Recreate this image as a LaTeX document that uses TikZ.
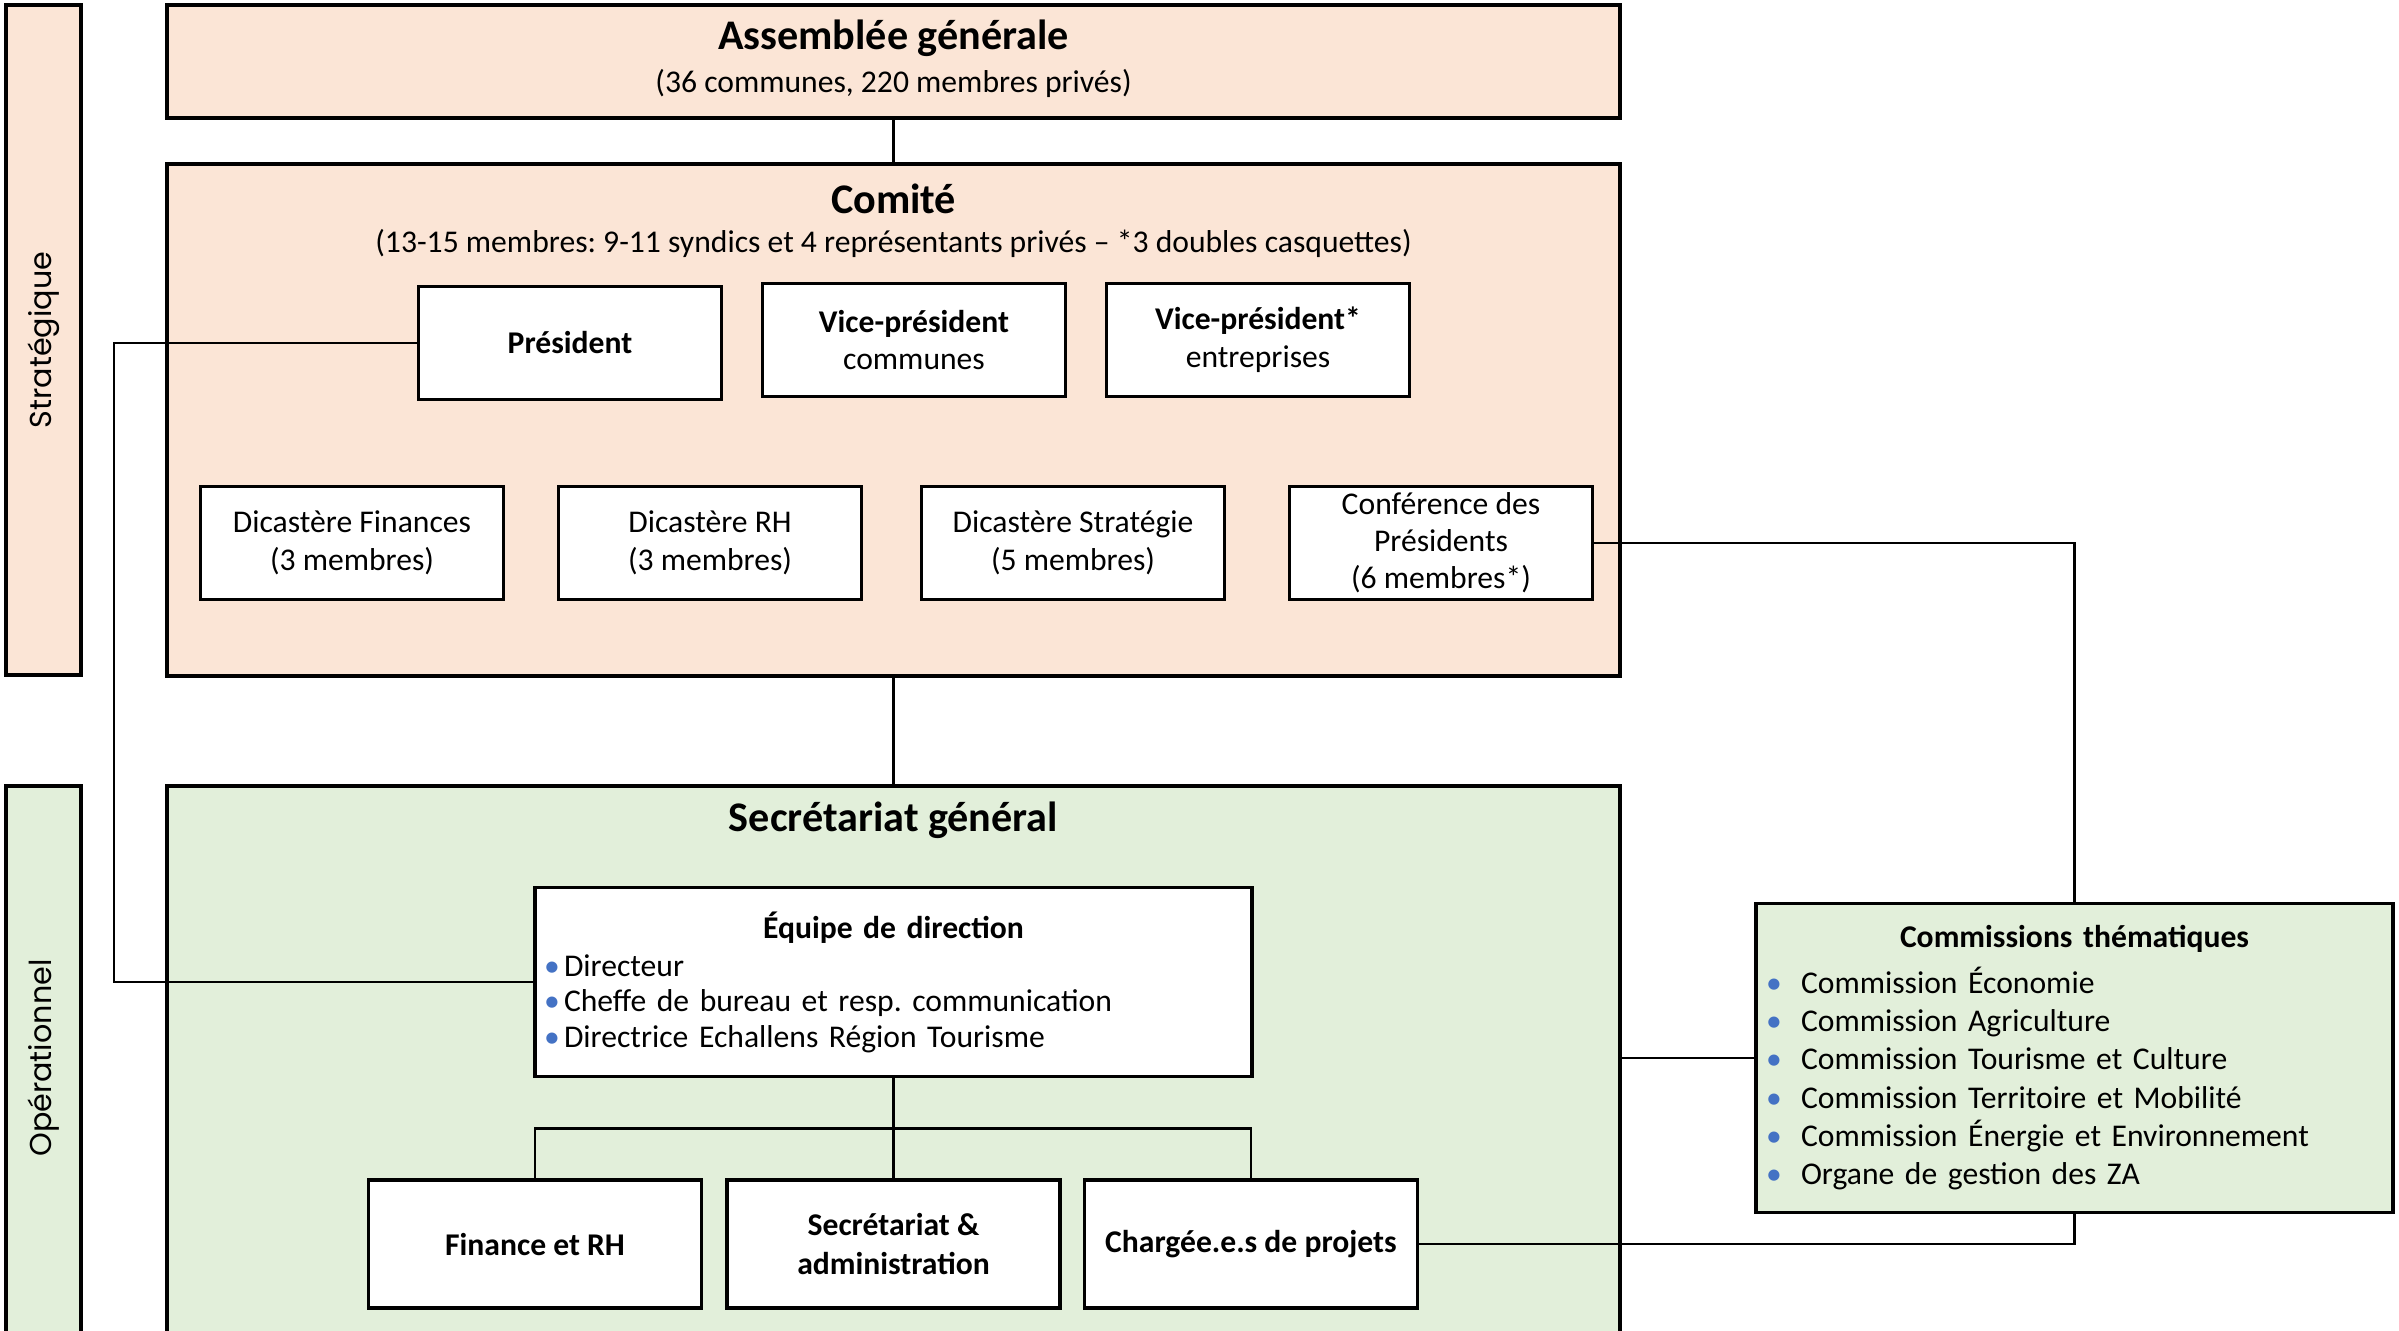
\documentclass[tikz,border=0pt]{standalone}
\usepackage{fontspec}
\setmainfont{Carlito}
\newfontfamily\sidefont{Poppins}
\usetikzlibrary{positioning,calc}
\definecolor{peach}{HTML}{FBE5D6}
\definecolor{sage}{HTML}{E2EFDA}
\definecolor{bulletblue}{HTML}{4472C4}
\newcommand{\bul}{{\color{bulletblue}\textbullet}}
\newcommand{\teamitem}[1]{\hspace*{0.03cm}\makebox[0.2cm][l]{\bul}#1\par}
\newcommand{\comitem}[1]{\hspace*{0.1cm}\makebox[0.35cm][l]{\bul}#1\par}
\frenchspacing

\begin{document}
\begin{tikzpicture}[
                every node/.style={font=\fontsize{9}{10.8}\selectfont},
                panel/.style={draw, line width=0.9pt, rectangle, inner sep=0pt},
                sidebar/.style={draw, line width=0.9pt, rectangle, minimum width=0.75cm},
                sidelabel/.style={rotate=90, font=\sidefont\fontsize{8.6}{10}\selectfont},
                heading/.style={font=\bfseries\fontsize{12}{14}\selectfont},
                rolebox/.style={draw, line width=0.9pt, fill=white, align=center,
                    minimum width=3.03cm, minimum height=1.13cm, inner ysep=1pt},
                teambox/.style={draw, line width=0.9pt, fill=white, align=center,
                    minimum width=3.33cm, minimum height=1.28cm, font=\bfseries\fontsize{9}{11}\selectfont},
                link/.style={line width=0.8pt},
                thinlink/.style={line width=0.4pt}
            ]
            \useasboundingbox (0,0) rectangle (23.99,-13.30);
            \clip (0,0) rectangle (23.99,-13.30);

            % side bars
            \node[sidebar, fill=peach, minimum height=6.70cm] (stratbar) at (0.435,-3.40) {};
            \node[sidebar, fill=sage, minimum height=5.74cm] (operbar) at (0.435,-10.73) {};
            \node[sidelabel] (stratlabel) at (stratbar) {Stratégique};
            \node[sidelabel] (operlabel) at (0.435,-10.58) {Opérationnel};

            % main panels
            \node[panel, fill=peach, minimum width=14.53cm, minimum height=1.13cm] (assemblee) at (8.935,-0.615) {};
            \node[panel, fill=peach, minimum width=14.53cm, minimum height=5.12cm] (comite) at (8.935,-4.20) {};
            \node[panel, fill=sage, minimum width=14.53cm, minimum height=5.74cm] (secretariat) at (8.935,-10.73) {};

            \node[heading] (assembleetitle) at (8.935,-0.38) {Assemblée générale};
            \node (assembleesub) at (8.935,-0.83) {(36 communes, 220 membres privés)};
            \node[heading] (comitetitle) at (8.935,-1.99) {Comité};
            \node (comitesub) at (8.935,-2.43) {(13-15 membres: 9-11 syndics et 4 représentants privés -- *3 doubles casquettes)};
            \node[heading] (secretariattitle) at (8.935,-8.20) {Secrétariat général};

            % comite
            \node[rolebox] (president) at (5.70,-3.43) {\textbf{Président}};
            \node[rolebox] (vpcommunes) at (9.14,-3.40) {\textbf{Vice-président}\\communes};
            \node[rolebox] (vpentreprises) at (12.58,-3.40) {\textbf{Vice-président*}\\entreprises};

            \node[rolebox] (dicfinances) at (3.52,-5.43) {Dicastère Finances\\(3 membres)};
            \node[rolebox] (dicrh) at (7.10,-5.43) {Dicastère RH\\(3 membres)};
            \node[rolebox] (dicstrategie) at (10.73,-5.43) {Dicastère Stratégie\\(5 membres)};
            \node[rolebox, font=\fontsize{9}{10.5}\selectfont] (conference) at (14.41,-5.43) {Conférence des\\Présidents\\(6 membres*)};

            % secretariat
            \node[draw, line width=0.9pt, fill=white, minimum width=7.17cm, minimum height=1.89cm,
                  text width=7.05cm, inner xsep=0.06cm, align=left,
                  font=\fontsize{9}{10}\selectfont] (equipe) at (8.935,-9.82)
                {{\centering\bfseries Équipe de direction\par}\vspace{1pt}
                 \teamitem{Directeur}
                 \teamitem{Cheffe de bureau et resp. communication}
                 \teamitem{Directrice Echallens Région Tourisme}};

            \node[teambox] (finance) at (5.35,-12.44) {Finance et RH};
            \node[teambox] (admin) at (8.935,-12.44) {Secrétariat \&\\administration};
            \node[teambox] (projets) at (12.51,-12.44) {Chargée.e.s de projets};

            \node[draw, line width=0.9pt, fill=sage, minimum width=6.37cm, minimum height=3.09cm,
                  text width=6.37cm, inner xsep=0pt, inner ysep=0pt, align=left,
                  font=\fontsize{9}{10.9}\selectfont] (commissions) at (20.745,-10.58)
                {{\centering\bfseries Commissions thématiques\par}\vspace{2pt}
                 \comitem{Commission Économie}
                 \comitem{Commission Agriculture}
                 \comitem{Commission Tourisme et Culture}
                 \comitem{Commission Territoire et Mobilité}
                 \comitem{Commission Énergie et Environnement}
                 \comitem{Organe de gestion des ZA}\vspace{4pt}};

            % links
            \draw[link] (assemblee) -- (comite);
            \draw[link] (comite) -- (secretariat);
            \draw[thinlink] (president.west) -- ++(-3.03,0) |- (equipe.west);
            \draw[link] (conference.east) -| (commissions.north);
            \draw[link] (commissions.west) -- (commissions.west -| secretariat.east);
            \draw[link] (projets.east) -| (commissions.south);
            \draw[link] (equipe.south) -- (admin.north);
            \draw[link] (finance.north) |- ($(equipe.south)!0.5!(admin.north)$) -| (projets.north);
        \end{tikzpicture}
\end{document}
